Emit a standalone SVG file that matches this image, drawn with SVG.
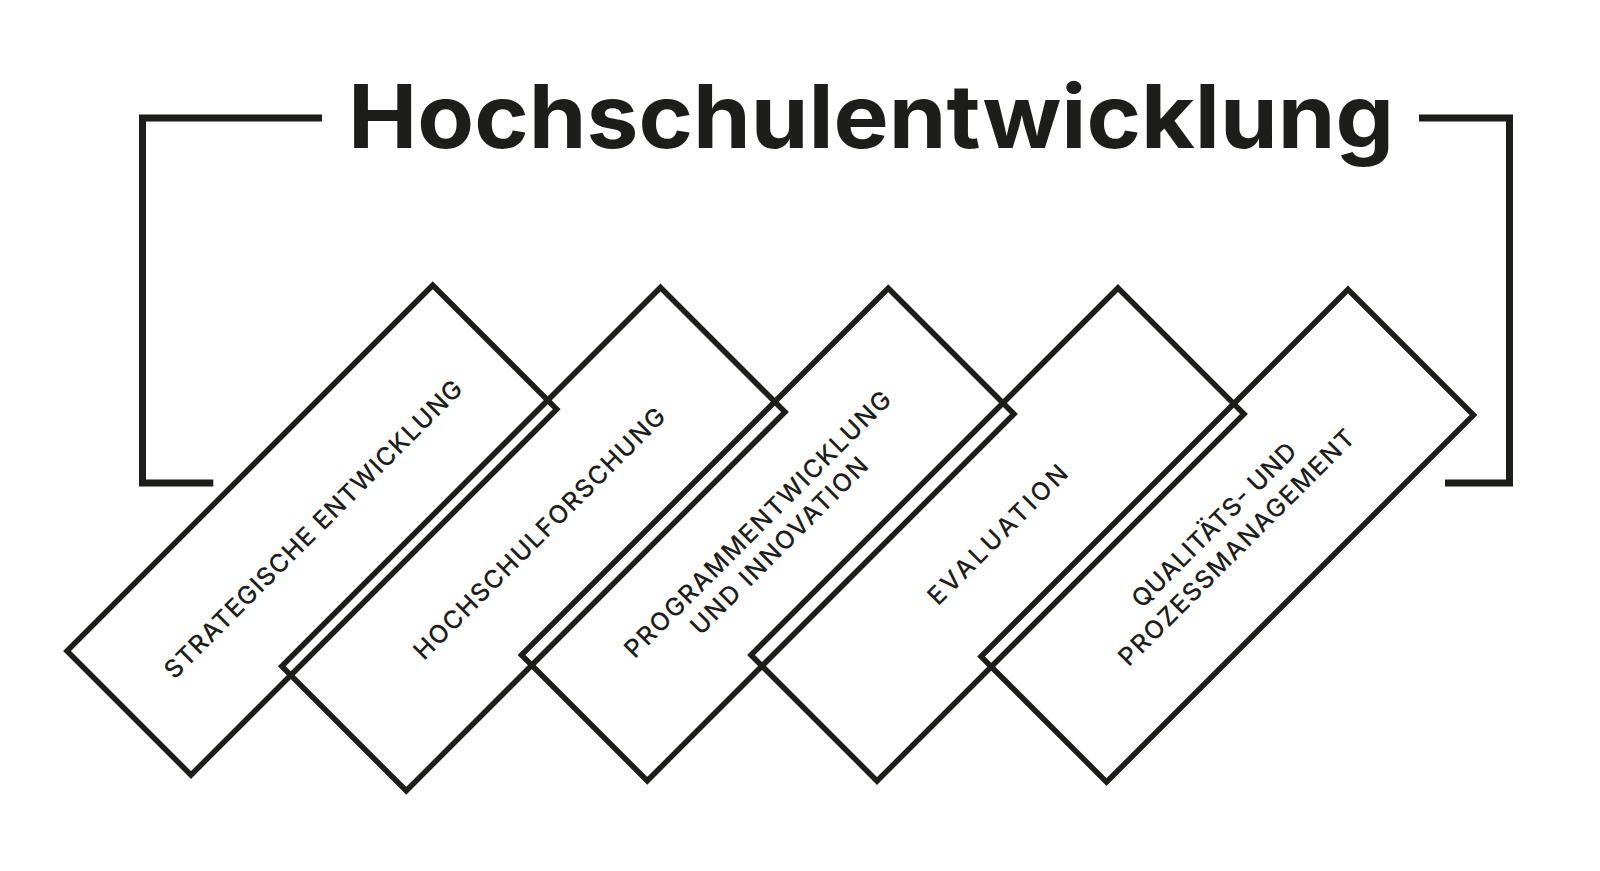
<svg xmlns="http://www.w3.org/2000/svg" width="1600" height="871" viewBox="0 0 1600 871">
  <style>
    .box { fill: none; stroke: #1d1d1b; stroke-width: 5.5; stroke-linejoin: miter; }
    .bracket { fill: none; stroke: #1d1d1b; stroke-width: 7; stroke-linejoin: miter; stroke-linecap: butt; }
    .title { font-family: Inter, "Liberation Sans", sans-serif; font-weight: 700; font-size: 88px; fill: #1d1d1b; }
    .label { font-family: Inter, "Liberation Sans", sans-serif; font-weight: 500; font-size: 25px; fill: #1d1d1b; text-anchor: middle; }
  </style>
  <rect width="1600" height="871" fill="#ffffff"/>

  <g id="title">
    <text class="title" x="871" y="147.7" text-anchor="middle" textLength="1046" lengthAdjust="spacingAndGlyphs">Hochschulentwicklung</text>
  </g>

  <g id="connectors">
    <path class="bracket" d="M 322 118 H 142.5 V 483 H 213.3"/>
    <path class="bracket" d="M 1419 118 H 1509.5 V 483 H 1445"/>
  </g>

  <g id="node-strategische-entwicklung">
    <polygon class="box" points="432.75,285.25 556.75,409.25 191,775 67,651"/>
    <g transform="translate(313,529) rotate(-45)">
      <text class="label" x="0" y="9" textLength="410" lengthAdjust="spacing">STRATEGISCHE ENTWICKLUNG</text>
    </g>
  </g>

  <g id="node-hochschulforschung">
    <polygon class="box" points="660.5,287.5 785,412 406.25,790.75 281.75,666.25"/>
    <g transform="translate(539.25,533.25) rotate(-45)">
      <text class="label" x="0" y="9" textLength="344" lengthAdjust="spacing">HOCHSCHULFORSCHUNG</text>
    </g>
  </g>

  <g id="node-programmentwicklung">
    <polygon class="box" points="888.25,288.25 1014,414 647.25,780.75 521.5,655"/>
    <g transform="translate(768.25,534.75) rotate(-45)">
      <text class="label" x="0" y="-6.2" textLength="365" lengthAdjust="spacing">PROGRAMMENTWICKLUNG</text>
      <text class="label" x="0" y="24.2" textLength="239" lengthAdjust="spacing">UND INNOVATION</text>
    </g>
  </g>

  <g id="node-evaluation">
    <polygon class="box" points="1118,288 1244,414 877,781 751,655"/>
    <g transform="translate(997.5,534.5) rotate(-45)">
      <text class="label" x="0" y="9" textLength="186" lengthAdjust="spacing">EVALUATION</text>
    </g>
  </g>

  <g id="node-qualitaetsmanagement">
    <polygon class="box" points="1348,289.5 1473.5,415 1106.5,782 981,656.5"/>
    <g transform="translate(1225,536) rotate(-45)">
      <text class="label" x="0" y="-6.9" textLength="221" lengthAdjust="spacing">QUALITÄTS- UND</text>
      <text class="label" x="0" y="24.9" textLength="322" lengthAdjust="spacing">PROZESSMANAGEMENT</text>
    </g>
  </g>
</svg>
